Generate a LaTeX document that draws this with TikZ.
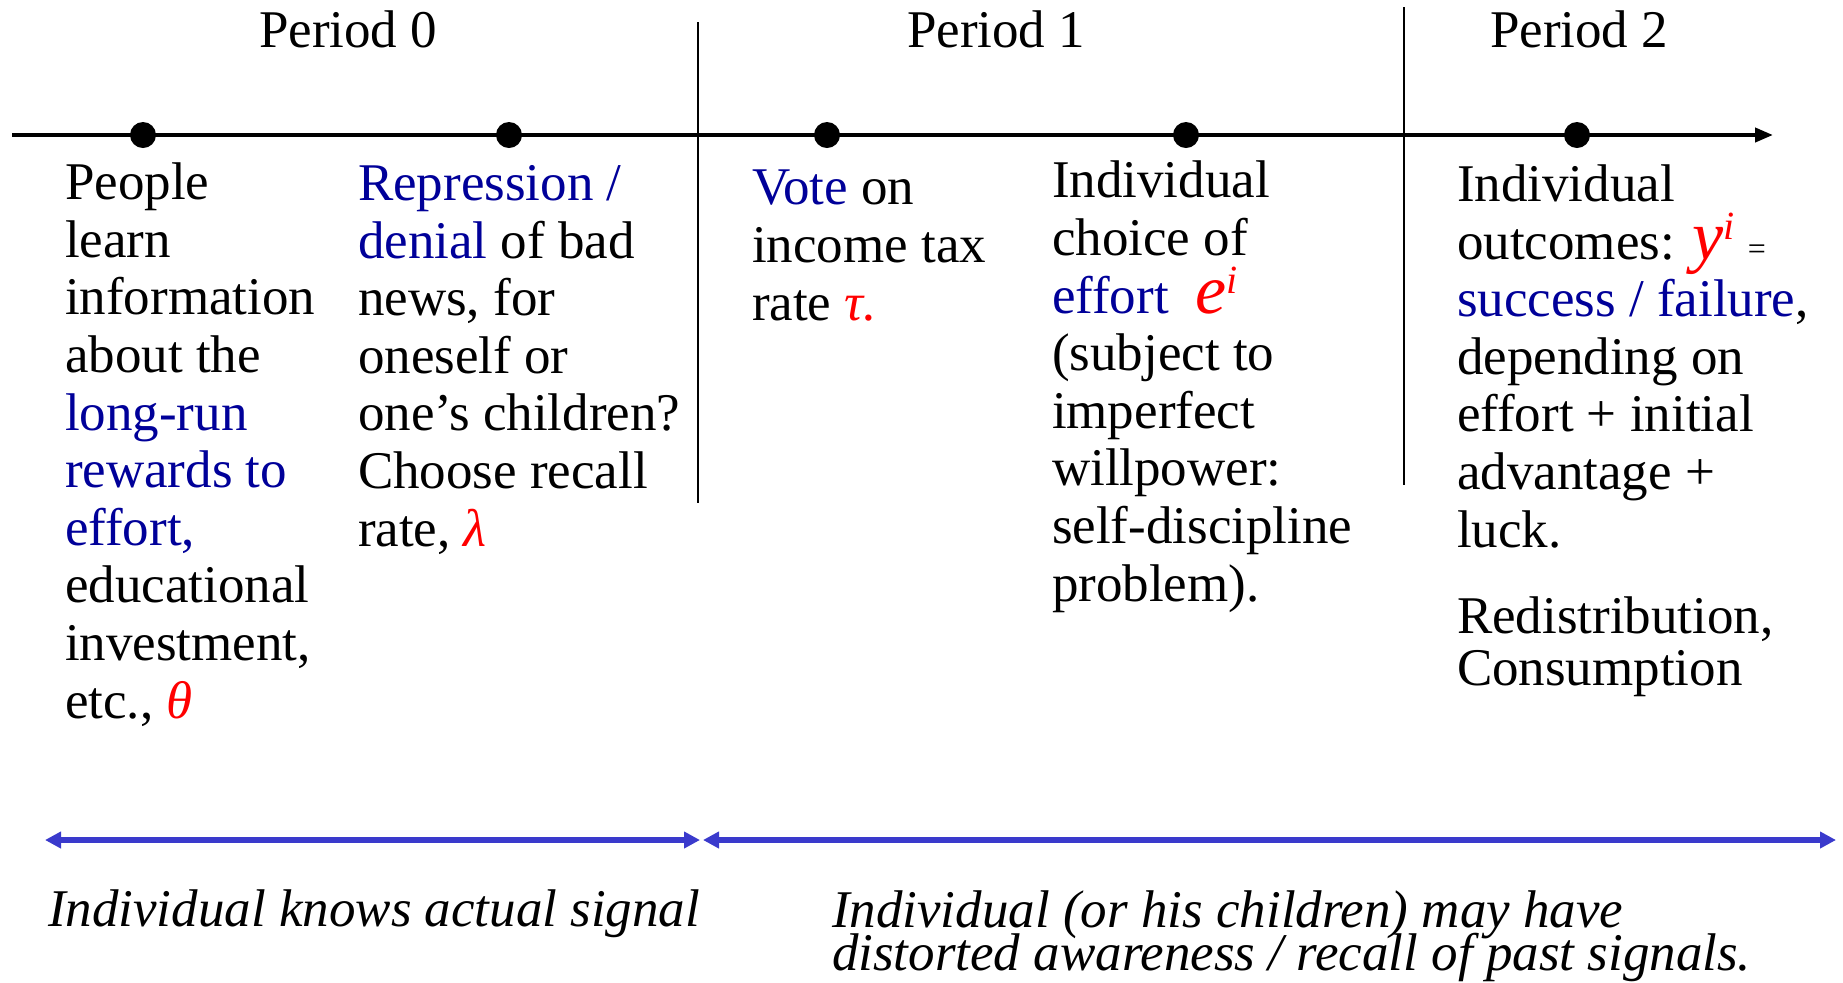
\documentclass[tikz,border=0pt]{standalone}
\usepackage{fontspec}
\setmainfont{Liberation Serif}
\usetikzlibrary{arrows.meta,positioning}

\definecolor{txtblue}{RGB}{0,0,153}
\definecolor{arrowblue}{RGB}{58,58,204}
\newcommand{\bl}[1]{\textcolor{txtblue}{#1}}
\newcommand{\rd}[1]{\textcolor{red}{\itshape #1}}
\newcommand{\bigvar}[1]{\smash{\textcolor{red}{\fontsize{35}{35}\selectfont\itshape #1\raisebox{10pt}{\fontsize{20}{20}\selectfont i}}}}
\newcommand{\tightlines}{\lineskiplimit=-20pt\relax}

\begin{document}
\begin{tikzpicture}[
                x=0.5pt,y=-0.5pt,
                every node/.style={inner sep=0pt,outer sep=0pt},
                txt/.style={anchor=base west,align=left,font=\fontsize{26.5}{28.8}\selectfont},
                dot/.style={circle,fill=black,minimum size=13pt},
                sep/.style={line width=0.8pt},
                span/.style={arrowblue,line width=3pt,{Triangle[length=8pt,width=8pt]}-{Triangle[length=8pt,width=8pt]}}
            ]
                \useasboundingbox (0,0) rectangle (1843,982);
                % time line
                \coordinate (t0) at (12,135);
                \coordinate (t1) at (1773,135);
                \draw [line width=2pt,-{Triangle[length=9pt,width=7pt]}] (t0) -- (t1);
                \foreach \x [count=\i] in {143,509,827,1186,1577} {
                    \node [dot] (d\i) at (\x,135) {};
                }
                \coordinate (s1a) at (698,22);
                \coordinate (s1b) at (698,503);
                \coordinate (s2a) at (1404,7);
                \coordinate (s2b) at (1404,485);
                \draw [sep] (s1a) -- (s1b);
                \draw [sep] (s2a) -- (s2b);
                % periods
                \node [txt] (p0) at (259,47) {Period 0};
                \node [txt] (p1) at (907,47) {Period 1};
                \node [txt] (p2) at (1490,47) {Period 2};
                % events (placed at the baseline of their last line)
                \node [txt] (e1) at (65,718) {People\\learn\\information\\about the\\\bl{long-run}\\\bl{rewards to}\\\bl{effort,}\\educational\\investment,\\etc., \rd{θ}};
                \node [txt] (e2) at (358,546) {\bl{Repression /}\\\bl{denial} of bad\\news, for\\oneself or\\one’s children?\\Choose recall\\rate, \rd{λ}};
                \node [txt] (e3) at (752,320) {\bl{Vote} on\\income tax\\rate \rd{τ.}};
                \node [txt] (e4) at (1052,601) {Individual\\choice of\\\bl{effort}\ \ \bigvar{e}\\(subject to\\imperfect\\willpower:\\self-discipline\\problem).};
                \node [txt] (e5) at (1457,547) {Individual\\outcomes: \bigvar{y} {\fontsize{16}{16}\selectfont =}\\\bl{success / failure},\\depending on\\effort + initial\\advantage +\\luck.};
                \node [txt,font=\fontsize{26.5}{26}\selectfont] (e6) at (1457,685) {Redistribution,\\Consumption};
                % signals
                \coordinate (a0) at (45,840);
                \coordinate (a1) at (700,840);
                \coordinate (a2) at (703,840);
                \coordinate (a3) at (1836,840);
                \draw [span] (a0) -- (a1);
                \draw [span] (a2) -- (a3);
                \node [txt,font=\fontsize{26.5}{28.8}\selectfont\itshape] (k0) at (48,926) {Individual knows actual signal};
                \node [txt,font=\fontsize{26.5}{21.5}\selectfont\itshape\tightlines] (k1) at (832,970) {Individual (or his children) may have\\distorted awareness / recall of past signals.};
            \end{tikzpicture}
\end{document}
